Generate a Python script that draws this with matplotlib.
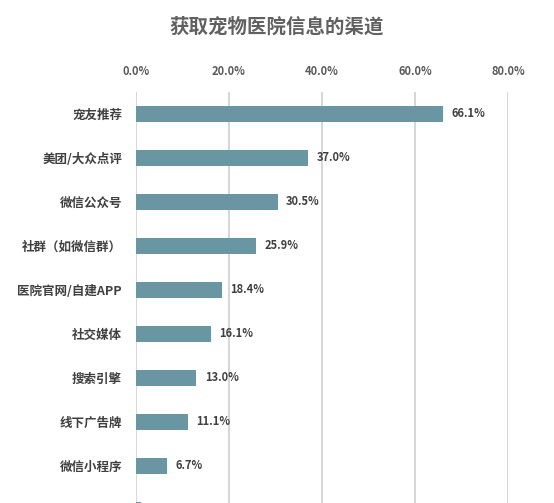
import matplotlib.pyplot as plt
import numpy as np

plt.rcParams['font.family'] = ['Noto Sans CJK SC', 'DejaVu Sans']

channels = ['宠友推荐', '美团/大众点评', '微信公众号', '社群（如微信群）', '医院官网/自建APP',
            '社交媒体', '搜索引擎', '线下广告牌', '微信小程序', '其他']
shares = [66.1, 37.0, 30.5, 25.9, 18.4, 16.1, 13.0, 11.1, 6.7, 1.0]
ticks = [0, 20, 40, 60, 80]

fig = plt.figure(figsize=(5.54, 5.03), dpi=100)
ax = fig.add_axes([136 / 554, -29 / 503, 372 / 554, 440 / 503])

y = np.arange(len(channels))
ax.barh(y, shares, height=0.36, color='#6a95a3', zorder=3)
for yi, v in zip(y[:9], shares[:9]):
    ax.text(v + 1.8, yi, f'{v:.1f}%', va='center', ha='left', fontsize=8,
            fontweight='bold', color='#404040')

ax.set_ylim(len(channels) - 0.5, -0.5)
ax.set_xlim(0, 80)
ax.set_yticks(y[:9])
ax.set_yticklabels(channels[:9], fontsize=9, fontweight='bold', color='#404040')
ax.set_xticks(ticks)
ax.set_xticklabels([f'{t:.1f}%' for t in ticks], fontsize=8, fontweight='bold', color='#595959')
ax.xaxis.tick_top()
ax.tick_params(axis='both', length=0)
ax.tick_params(axis='x', pad=10)
ax.tick_params(axis='y', pad=10)
ax.grid(axis='x', color='#d0d0d0', linewidth=1.2, zorder=0)
for s in ax.spines.values():
    s.set_visible(False)

fig.text(0.5, 1 - 27 / 503, '获取宠物医院信息的渠道', ha='center', va='center',
         fontsize=14, fontweight='bold', color='#606060')

fig.savefig('out.png', dpi=100)
